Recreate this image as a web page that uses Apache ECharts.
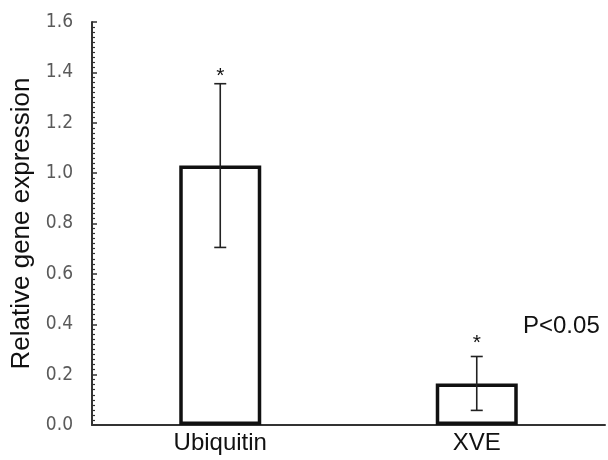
<!DOCTYPE html>
<html>
<head>
<meta charset="utf-8">
<script src="https://cdn.jsdelivr.net/npm/echarts@6/dist/echarts.min.js"></script>
<style>
  html, body { margin: 0; padding: 0; background: #fff; }
  #chart { width: 608px; height: 460px; }
</style>
</head>
<body>
<div id="chart"></div>
<script>
// data
const categories = ['Ubiquitin', 'XVE']
const values = [1.03, 0.165]
const errors = [0.325, 0.107]
const starAt = [1.40, 0.34] // where the * marks sit
const yTicks = [0, 0.2, 0.4, 0.6, 0.8, 1.0, 1.2, 1.4, 1.6]
const note = 'P<0.05'

const chart = echarts.init(document.getElementById('chart'))

// error bars + asterisks
const errData = categories.map((c, i) => [i, values[i], errors[i], starAt[i]])

const renderErr = (params, api) => {
  const i = api.value(0)
  const v = api.value(1)
  const e = api.value(2)
  const top = api.coord([i, v + e])
  const bot = api.coord([i, v - e])
  const star = api.coord([i, api.value(3)])
  const cap = 6
  const st = { stroke: '#222', lineWidth: 1.6 }
  return {
    type: 'group',
    children: [
      { type: 'line', shape: { x1: top[0], y1: top[1], x2: bot[0], y2: bot[1] }, style: st },
      { type: 'line', shape: { x1: top[0] - cap, y1: top[1], x2: top[0] + cap, y2: top[1] }, style: st },
      { type: 'line', shape: { x1: bot[0] - cap, y1: bot[1], x2: bot[0] + cap, y2: bot[1] }, style: st },
      {
        type: 'text',
        style: {
          text: '*', x: star[0], y: star[1] + 4,
          align: 'center', verticalAlign: 'middle',
          font: '21px "Liberation Sans", Arial', fill: '#111'
        }
      }
    ]
  }
}

chart.setOption({
  animation: false,
  grid: { left: 92, right: 3, top: 22, bottom: 35, containLabel: false, outerBoundsMode: 'none' },
  xAxis: {
    type: 'category',
    data: categories,
    axisLine: { lineStyle: { color: '#333', width: 2 } },
    axisTick: { show: false },
    axisLabel: {
      color: '#111', fontSize: 24, margin: 6,
      fontFamily: '"Liberation Sans", Arial'
    }
  },
  yAxis: {
    type: 'value',
    min: yTicks[0],
    max: yTicks[yTicks.length - 1],
    interval: 0.2,
    name: 'Relative gene expression',
    nameLocation: 'middle',
    nameRotate: 90,
    nameGap: 56,
    nameTextStyle: { color: '#111', fontSize: 26, fontFamily: '"Liberation Sans", Arial' },
    axisLine: { show: true, lineStyle: { color: '#333', width: 2 } },
    axisTick: { show: true, inside: true, length: 5, lineStyle: { color: '#333', width: 1.5 } },
    minorTick: { show: true, splitNumber: 10, length: 3, lineStyle: { color: '#333', width: 1.2 } },
    splitLine: { show: false },
    axisLabel: {
      color: '#5a5a5a', fontSize: 19, margin: 19,
      fontFamily: '"Liberation Sans Narrow", "DejaVu Sans Condensed", sans-serif',
      formatter: (v) => v.toFixed(1)
    }
  },
  series: [
    {
      type: 'bar',
      data: values,
      barWidth: 82,
      itemStyle: { color: '#fff', borderColor: '#111', borderWidth: 3.5 },
      z: 2
    },
    {
      type: 'custom',
      data: errData,
      renderItem: renderErr,
      z: 3
    }
  ],
  graphic: [
    {
      type: 'text',
      left: 523,
      top: 314,
      style: { text: note, font: '24px "Liberation Sans", Arial', fill: '#111' }
    }
  ]
})
</script>
</body>
</html>
